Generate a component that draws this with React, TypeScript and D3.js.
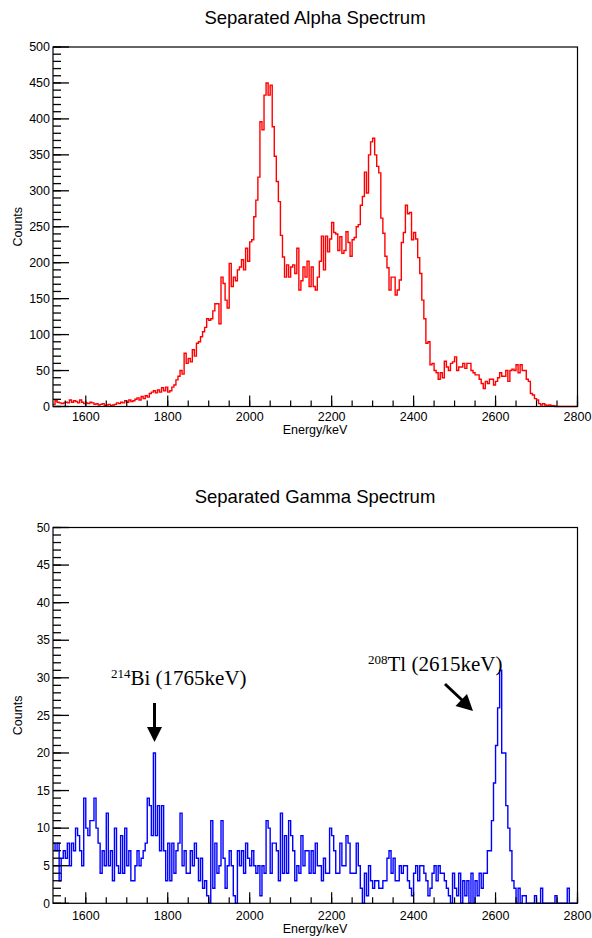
import React from 'react';
import * as d3 from 'd3';

// histogram binning shared by both spectra
const binStart = 1520;
const binWidth = 5;
const energyDomain = [1520, 2800];
const energyMajorTicks = [1600, 1800, 2000, 2200, 2400, 2600, 2800];
const energyMinorTicks = d3.range(1550, 2801, 50);

// counts per 5 keV bin, one row per 50 keV starting at 1520
const alphaCounts = [
  3, 8, 6, 5, 4, 5, 6, 5, 9, 6,
  8, 7, 5, 9, 6, 4, 5, 4, 6, 5,
  3, 4, 2, 3, 4, 1, 2, 3, 1, 2,
  3, 5, 4, 6, 5, 8, 6, 9, 7, 8,
  10, 12, 9, 14, 11, 15, 13, 18, 20, 22,
  19, 23, 20, 26, 22, 27, 20, 22, 27, 30,
  37, 42, 50, 45, 74, 60, 67, 62, 79, 70,
  88, 90, 97, 104, 110, 122, 120, 122, 133, 143,
  143, 115, 180, 171, 148, 137, 199, 167, 180, 175,
  190, 194, 204, 190, 220, 202, 229, 232, 264, 287,
  319, 396, 385, 433, 450, 433, 447, 389, 348, 313,
  285, 238, 208, 180, 197, 180, 194, 197, 185, 220,
  162, 175, 194, 180, 202, 167, 194, 167, 162, 180,
  202, 237, 190, 237, 215, 233, 256, 242, 240, 217,
  236, 213, 217, 243, 228, 209, 232, 235, 250, 253,
  280, 292, 326, 297, 350, 368, 373, 350, 334, 325,
  262, 241, 209, 193, 162, 180, 180, 155, 162, 176,
  228, 242, 280, 268, 270, 232, 242, 233, 207, 185,
  148, 122, 88, 90, 58, 60, 50, 47, 38, 47,
  40, 63, 55, 50, 60, 62, 69, 50, 55, 55,
  60, 53, 60, 60, 50, 47, 44, 44, 38, 32,
  25, 35, 32, 38, 38, 30, 35, 40, 47, 42,
  42, 50, 35, 50, 52, 50, 58, 47, 58, 50,
  50, 38, 35, 18, 16, 11, 9, 4, 2, 4,
  2, 1, 2, 1, 1, 0, 0, 0, 0, 0,
  0, 0, 0, 0, 0, 0,
];

const gammaCounts = [
  8, 7, 8, 3, 6, 7, 6, 8, 5, 8,
  7, 10, 9, 7, 5, 14, 10, 9, 11, 11,
  14, 10, 8, 4, 7, 5, 12, 5, 7, 3,
  10, 5, 4, 9, 4, 10, 5, 7, 3, 3,
  5, 7, 5, 6, 7, 8, 14, 13, 9, 20,
  9, 13, 7, 13, 7, 3, 8, 3, 8, 4,
  7, 8, 12, 5, 7, 4, 4, 7, 5, 8,
  6, 3, 6, 2, 3, 1, 0, 11, 2, 8,
  4, 5, 11, 6, 2, 5, 7, 5, 1, 0,
  7, 5, 7, 4, 8, 6, 5, 7, 5, 4,
  5, 1, 5, 4, 11, 10, 4, 8, 8, 7,
  3, 12, 4, 9, 4, 11, 9, 7, 3, 5,
  4, 9, 5, 7, 7, 4, 7, 4, 8, 5,
  5, 3, 6, 4, 4, 10, 9, 7, 4, 4,
  8, 5, 5, 9, 8, 4, 4, 4, 8, 5,
  2, 0, 4, 1, 5, 3, 2, 3, 3, 2,
  2, 3, 3, 6, 7, 4, 6, 3, 3, 5,
  4, 5, 5, 3, 2, 1, 4, 5, 3, 5,
  5, 4, 3, 1, 2, 4, 5, 3, 5, 4,
  4, 3, 2, 1, 0, 4, 2, 1, 4, 0,
  3, 1, 3, 0, 4, 0, 3, 1, 4, 2,
  4, 4, 7, 7, 11, 16, 21, 26, 31, 20,
  20, 13, 10, 7, 3, 2, 0, 2, 0, 1,
  1, 0, 0, 0, 0, 1, 0, 0, 2, 0,
  0, 0, 0, 0, 0, 1, 0, 0, 0, 0,
  0, 2, 0, 0, 0, 0,
];

const alphaYTicks = d3.range(0, 501, 50);
const gammaYTicks = d3.range(0, 51, 5);

const sans = 'Liberation Sans, Arial, sans-serif';
const serif = 'Liberation Serif, Times New Roman, serif';

interface SpectrumProps {
  title: string;
  titleY: number;
  top: number;
  bottom: number;
  counts: number[];
  yMax: number;
  yTicks: number[];
  yMinorStep: number;
  color: string;
  yFont: number;
  xLabelY: number;
  tickLabelDy: number;
  children?: (x: d3.ScaleLinear<number, number>, y: d3.ScaleLinear<number, number>) => React.ReactNode;
}

const left = 53;
const right = 577.5;

function Spectrum(props: SpectrumProps) {
  const { top, bottom, counts, yMax, color } = props;
  const x = d3.scaleLinear().domain(energyDomain).range([left, right]);
  const y = d3.scaleLinear().domain([0, yMax]).range([bottom, top]);

  const pts: [number, number][] = counts.map((c, i) => [binStart + i * binWidth, c]);
  pts.push([binStart + counts.length * binWidth, counts[counts.length - 1]]);
  const path = d3
    .line<[number, number]>()
    .x((d) => x(d[0]))
    .y((d) => y(d[1]))
    .curve(d3.curveStepAfter)(pts) as string;

  const yMinor = d3.range(0, yMax + 0.001, props.yMinorStep);

  return (
    <g>
      <text x={315} y={props.titleY} textAnchor="middle" fontFamily={sans} fontSize={18.5}>
        {props.title}
      </text>
      <path d={path} fill="none" stroke={color} strokeWidth={1.4} />
      <rect x={left} y={top} width={right - left} height={bottom - top} fill="none" stroke="#000" strokeWidth={1.2} />
      {yMinor.map((t) => (
        <line key={'ym' + t} x1={left} x2={left + 8} y1={y(t)} y2={y(t)} stroke="#000" strokeWidth={1.3} />
      ))}
      {props.yTicks.map((t) => (
        <g key={'y' + t}>
          <line x1={left} x2={left + 16} y1={y(t)} y2={y(t)} stroke="#000" strokeWidth={1.3} />
          <text x={left - 3} y={y(t)} dy="0.35em" textAnchor="end" fontFamily={sans} fontSize={props.yFont}>
            {t}
          </text>
        </g>
      ))}
      {energyMinorTicks.map((t) => (
        <line key={'xm' + t} x1={x(t)} x2={x(t)} y1={bottom} y2={bottom - 6} stroke="#000" strokeWidth={1.2} />
      ))}
      {energyMajorTicks.map((t) => (
        <g key={'x' + t}>
          <line x1={x(t)} x2={x(t)} y1={bottom} y2={bottom - 11} stroke="#000" strokeWidth={1.2} />
          <text x={x(t)} y={bottom + props.tickLabelDy} textAnchor="middle" fontFamily={sans} fontSize={12.5}>
            {t}
          </text>
        </g>
      ))}
      <text x={315} y={props.xLabelY} textAnchor="middle" fontFamily={sans} fontSize={12.5}>
        Energy/keV
      </text>
      <text
        transform={`translate(22,${(top + bottom) / 2}) rotate(-90)`}
        textAnchor="middle"
        fontFamily={sans}
        fontSize={12.5}
      >
        Counts
      </text>
      {props.children && props.children(x, y)}
    </g>
  );
}

export default function App() {
  return (
    <svg
      width={592}
      height={938}
      style={{ position: 'absolute', left: 0, top: 0, background: '#fff' }}
    >
      <rect width={592} height={938} fill="#fff" />
      <Spectrum
        title="Separated Alpha Spectrum"
        titleY={24}
        top={47}
        bottom={406.5}
        counts={alphaCounts}
        yMax={500}
        yTicks={alphaYTicks}
        yMinorStep={10}
        color="#ff0000"
        yFont={12.5}
        xLabelY={434}
        tickLabelDy={14}
      />
      <Spectrum
        title="Separated Gamma Spectrum"
        titleY={503}
        top={527.5}
        bottom={903.3}
        counts={gammaCounts}
        yMax={50}
        yTicks={gammaYTicks}
        yMinorStep={1}
        color="#0000ff"
        yFont={12}
        xLabelY={933}
        tickLabelDy={16.5}
      >
        {() => (
          <g>
            <text x={111} y={685} fontFamily={serif} fontSize={21}>
              <tspan fontSize={13} dy={-7}>214</tspan>
              <tspan dy={7}>Bi (1765keV)</tspan>
            </text>
            <line x1={154.5} x2={154.5} y1={703} y2={729} stroke="#000" strokeWidth={3} />
            <path d="M147,727 L162,727 L154.5,742 Z" fill="#000" />
            <text x={368} y={671} fontFamily={serif} fontSize={21}>
              <tspan fontSize={13} dy={-7}>208</tspan>
              <tspan dy={7}>Tl (2615keV)</tspan>
            </text>
            <line x1={445} x2={463} y1={684} y2={701} stroke="#000" strokeWidth={3} />
            <path d="M473,711 L455.5,706 L467,694 Z" fill="#000" />
          </g>
        )}
      </Spectrum>
    </svg>
  );
}
